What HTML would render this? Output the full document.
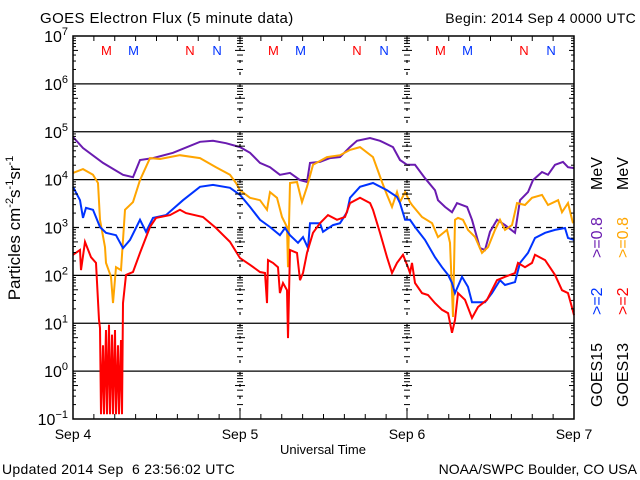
<!DOCTYPE html>
<html><head><meta charset="utf-8"><style>
body{margin:0;background:#fff}
svg{display:block;font-family:"Liberation Sans","DejaVu Sans",sans-serif}
</style></head><body>
<svg id="chart" width="640" height="480" viewBox="0 0 640 480" xmlns="http://www.w3.org/2000/svg">
<rect width="640" height="480" fill="#fff"/>
<text x="40" y="23" font-size="15" letter-spacing="0.4">GOES Electron Flux (5 minute data)</text>
<text x="636" y="23" font-size="14" text-anchor="end" letter-spacing="0.3">Begin: 2014 Sep 4 0000 UTC</text>
<text transform="translate(20,228) rotate(-90)" font-size="17" text-anchor="middle">Particles cm<tspan font-size="11" dy="-7">-2</tspan><tspan dy="7">s</tspan><tspan font-size="11" dy="-7">-1</tspan><tspan dy="7">sr</tspan><tspan font-size="11" dy="-7">-1</tspan></text>
<text x="323" y="454" font-size="13" text-anchor="middle">Universal Time</text>
<text x="2" y="474" font-size="14" xml:space="preserve" letter-spacing="0.3">Updated 2014 Sep  6 23:56:02 UTC</text>
<text x="637" y="474" font-size="14" text-anchor="end">NOAA/SWPC Boulder, CO USA</text>
<g transform="translate(602,412) rotate(-90)" font-size="16">
<text x="5" y="0">GOES15</text><text x="97" y="0" fill="#0033ff">&gt;=2</text><text x="154" y="0" fill="#6a1bb0">&gt;=0.8</text><text x="222" y="0">MeV</text></g>
<g transform="translate(628,412) rotate(-90)" font-size="16">
<text x="5" y="0">GOES13</text><text x="97" y="0" fill="#ff0000">&gt;=2</text><text x="154" y="0" fill="#ffa500">&gt;=0.8</text><text x="222" y="0">MeV</text></g>
<g id="grid"></g><g id="series"></g><g id="axes"></g>
</svg>
<script>
const purpleHours=[0,1.44,4.31,7.19,8.62,9.63,11.5,14.37,18.25,20.12,21.99,24,25.44,26.87,28.31,29.74,31.18,32.62,33.63,34.06,35.49,36.93,38.37,39.80,40.82,42.68,44.12,45.99,46.99,48,49.15,50.59,52.03,52.46,53.46,54.47,55.19,56.63,57.34,58.49,59.21,59.93,60.94,62.09,63.52,64.24,65.39,66.11,67.40,68.27,69.27,70.42,71.14,72];
const purpleLogFlux=[4.89,4.66,4.35,4.10,4.05,4.41,4.45,4.56,4.79,4.81,4.76,4.68,4.56,4.35,4.26,4.10,4.14,3.99,3.95,4.35,4.37,4.45,4.47,4.68,4.81,4.87,4.81,4.68,4.41,4.31,4.31,4.03,3.78,3.57,3.43,3.32,3.51,3.43,3.16,2.57,2.53,2.91,3.16,3.05,2.89,3.57,3.74,3.99,4.16,4.10,4.31,4.37,4.26,4.24];
const orangeHours=[0,1.44,2.87,3.59,3.88,4.60,4.74,5.46,5.75,6.18,6.90,7.47,8.62,9.63,11.06,12.50,15.37,18.25,20.55,22.56,23.43,24,25.44,26.87,27.88,28.31,29.32,30.03,30.75,30.90,31.18,32.19,32.91,33.63,34.49,36.50,38.37,39.81,41.25,43.12,44.41,45.13,45.85,46.57,46.99,47.72,48.43,48.72,50.16,51.60,52.46,53.75,54.18,54.61,54.90,55.33,56.05,56.77,57.78,58.78,59.65,60.65,61.37,62.09,63.09,63.81,64.96,65.97,67.40,68.27,69.71,70.28,71.14,71.86];
const orangeLogFlux=[4.14,4.22,4.10,3.93,3.16,2.59,2.26,1.97,1.42,2.17,2.11,3.37,3.53,3.99,4.45,4.43,4.51,4.45,4.26,4.10,3.93,3.78,3.62,3.57,3.37,3.74,3.62,3.22,3.01,2.17,3.93,3.95,3.53,3.85,4.31,4.47,4.51,4.62,4.68,4.47,3.95,3.68,3.43,3.74,3.53,3.74,3.53,3.47,3.22,3.09,2.80,2.95,2.68,1.13,3.16,3.20,3.16,2.95,2.80,2.47,2.59,2.95,3.16,2.95,3.05,3.51,3.47,3.62,3.68,3.47,3.57,3.32,3.51,3.09];
const blueHours=[0,1.01,1.44,1.87,2.87,3.88,4.74,6.18,7.19,8.19,9.63,10.49,11.5,13.37,15.81,18.25,20.12,22.56,24,25.44,26.87,28.31,29.74,30.47,31.18,32.34,33.06,33.77,34.06,35.49,35.93,37.37,38.37,39.38,39.81,41.25,43.12,45.13,46.57,46.99,47.72,48.43,49.15,50.59,52.03,53.03,53.90,54.47,54.90,55.91,56.77,57.34,58.21,59.21,60.22,61.37,62.09,63.52,64.24,65.39,66.40,67.84,69.27,70.71,71.14,72];
const blueLogFlux=[3.85,3.57,3.20,3.41,3.37,3.01,2.89,2.84,2.57,2.74,3.16,2.91,3.20,3.26,3.57,3.85,3.89,3.83,3.68,3.43,3.16,3.01,2.84,2.99,2.84,2.68,2.80,2.57,3.09,3.09,2.91,3.05,3.09,3.32,3.62,3.85,3.93,3.78,3.64,3.51,3.16,3.16,3.01,2.74,2.38,2.17,2.01,1.84,1.63,1.97,1.76,1.44,1.44,1.44,1.63,1.90,1.80,1.86,2.26,2.47,2.78,2.89,2.95,2.99,2.78,2.74];
const redHours=[0,1.01,1.15,1.72,2.59,3.31,3.74,3.88,4.02,4.31,4.45,4.74,4.89,5.17,5.32,5.60,5.75,6.03,6.18,6.47,6.61,6.90,7.04,7.19,7.62,8.62,9.63,11.06,11.93,13.94,15.37,16.24,18.68,20.55,22.56,24,25.44,26.87,27.59,27.88,28.03,28.74,29.46,29.74,30.18,30.76,30.90,31.19,32.19,32.62,33.06,33.63,34.49,35.50,36.65,37.94,39.09,39.81,41.25,42.69,43.12,44.12,45.13,45.85,46.57,47.43,48.15,48.43,48.72,49.15,50.16,51.02,52.03,53.03,53.90,54.47,54.90,55.33,56.34,57.34,58.21,59.50,60.94,62.09,63.52,63.95,64.96,65.97,66.40,67.84,69.27,70.28,71.14,71.72,72];
const redLogFlux=[2.43,2.53,2.11,2.70,2.38,2.26,1.07,0.90,-0.9,0.54,-0.9,0.86,-0.9,0.97,-0.9,0.76,-0.9,0.86,-0.9,0.54,-0.9,0.65,-0.9,1.42,2.01,2.07,2.47,3.01,3.20,3.26,3.37,3.30,3.22,2.99,2.70,2.36,2.22,2.07,2.05,1.42,2.32,2.26,2.17,1.63,1.84,1.69,0.69,2.53,2.47,1.90,2.05,2.47,2.89,3.09,3.26,3.16,3.22,3.51,3.62,3.51,3.37,2.89,2.38,2.05,2.26,2.43,2.17,2.05,2.26,1.84,1.63,1.59,1.42,1.28,1.21,0.80,1.07,1.63,1.49,1.11,1.34,1.49,1.90,1.97,2.05,2.26,2.17,2.26,2.43,2.32,2.01,1.69,1.63,1.32,1.17];
const yTickExp=[7,6,5,4,3,2,1,0,-1];
const dayLabels=["Sep 4","Sep 5","Sep 6","Sep 7"];
const markerLabels=["M","M","N","N"];
const markerHours=[4.8,8.7,16.8,20.7];

const X0=73,X1=574,Y0=36,Y1=419,NS="http://www.w3.org/2000/svg";
const xs=h=>X0+(X1-X0)*h/72;
const yl=l=>Y1-(Y1-Y0)*(l+1)/8;
function mk(tag,attrs,parent){const e=document.createElementNS(NS,tag);for(const k in attrs)e.setAttribute(k,attrs[k]);parent.appendChild(e);return e;}
const grid=document.getElementById('grid'),axes=document.getElementById('axes'),ser=document.getElementById('series');
yTickExp.forEach(e=>{
  const y=yl(e);
  if(e<7&&e>-1){const l=mk('line',{x1:X0,x2:X1,y1:y,y2:y,stroke:'#000','stroke-width':1.3,'stroke-dasharray':e===3?'6,5':'none'},grid);
    
    }
  const t=mk('text',{x:68,y:y+6,'font-size':16,'text-anchor':'end'},axes);
  
  
  t.innerHTML='10<tspan font-size="11" dy="-7">'+(e<0?'&#8722;'+(-e):e)+'</tspan>';
  if(e>-1){for(let m=2;m<=9;m++){const yy=yl(e-1+Math.log10(m));const len=m===5?5:3;
    [X0,240,407].forEach(xx=>{mk('line',{x1:xx-(xx===X0?0:len),x2:xx+len,y1:yy,y2:yy,stroke:'#000'},axes);});
    mk('line',{x1:X1-len,x2:X1,y1:yy,y2:yy,stroke:'#000'},axes);}}
});
mk('rect',{x:X0,y:Y0,width:X1-X0,height:Y1-Y0,fill:'none',stroke:'#000','stroke-width':1.5},axes);
[24,48].forEach(h=>mk('line',{x1:xs(h),x2:xs(h),y1:Y0,y2:Y1,stroke:'#000','stroke-dasharray':'3,9','stroke-width':1.2},axes));
for(let h=3;h<72;h+=3){const x=xs(h);const len=h%24===0?8:5;
  mk('line',{x1:x,x2:x,y1:Y1,y2:Y1-len,stroke:'#000'},axes);mk('line',{x1:x,x2:x,y1:Y0,y2:Y0+len,stroke:'#000'},axes);}
dayLabels.forEach((d,i)=>{const t=mk('text',{x:xs(i*24),y:439,'font-size':14,'text-anchor':'middle'},axes);t.textContent=d;
  
  });
for(let d=0;d<3;d++)markerLabels.forEach((m,i)=>{const t=mk('text',{x:xs(d*24+markerHours[i]),y:55,'font-size':13,'text-anchor':'middle',fill:i%2?'#0033ff':'#ff0000'},axes);t.textContent=m;
  
  });
function series(hours,logs,color,name){
  const pts=hours.map((h,i)=>xs(h).toFixed(1)+','+yl(logs[i]).toFixed(1)).join(' ');
  const p=mk('polyline',{points:pts,fill:'none',stroke:color,'stroke-width':2,'stroke-linejoin':'miter'},ser);
  
  
}
series(purpleHours,purpleLogFlux,'#6a1bb0','goes15-0.8mev-line');
series(orangeHours,orangeLogFlux,'#ffa500','goes13-0.8mev-line');
series(blueHours,blueLogFlux,'#0033ff','goes15-2mev-line');
series(redHours,redLogFlux,'#ff0000','goes13-2mev-line');
</script>
</body></html>
